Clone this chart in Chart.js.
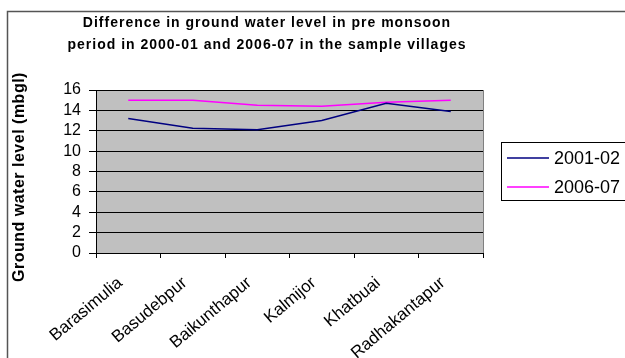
<!DOCTYPE html>
<html>
<head>
<meta charset="utf-8">
<script src="https://cdn.jsdelivr.net/npm/chart.js@4"></script>
<style>
html, body { margin: 0; padding: 0; background: #fff; }
</style>
</head>
<body>
<canvas id="myChart" width="625" height="358"></canvas>
<script>
var villages = ['Barasimulia', 'Basudebpur', 'Baikunthapur', 'Kalmijor', 'Khatbuai', 'Radhakantapur'];
var level2001 = [13.2, 12.25, 12.1, 13.0, 14.7, 13.9];
var level2006 = [15.0, 15.0, 14.5, 14.4, 14.8, 15.0];
var seriesNames = ['2001-02', '2006-07'];
var seriesColors = ['#000080', '#FF00FF'];
var yMin = 0, yMax = 16, yStep = 2;
var titleLines = ['Difference in ground water level in pre monsoon', 'period in 2000-01 and 2006-07 in the sample villages'];
var yTitle = 'Ground water level (mbgl)';

var fontFam = '"Liberation Sans", Arial, sans-serif';

// background, frame, titles and legend drawn around the chart
var decor = {
    id: 'decor',
    beforeDraw: function(chart) {
        var c = chart.ctx;
        var a = chart.chartArea;
        c.save();
        c.fillStyle = '#fff';
        c.fillRect(0, 0, chart.width, chart.height);
        c.fillStyle = '#C0C0C0';
        c.fillRect(a.left, a.top, a.right - a.left, a.bottom - a.top);
        c.strokeStyle = '#555';
        c.lineWidth = 1.5;
        c.strokeRect(7.5, 11.5, 700, 400);
        c.restore();
    },
    afterDraw: function(chart) {
        var c = chart.ctx;
        var a = chart.chartArea;
        c.save();
        // right edge of plot
        c.strokeStyle = '#808080';
        c.lineWidth = 1;
        c.beginPath();
        c.moveTo(Math.round(a.right) + 0.5, a.top);
        c.lineTo(Math.round(a.right) + 0.5, a.bottom);
        c.stroke();
        // chart title
        c.fillStyle = '#000';
        c.font = 'bold 14px ' + fontFam;
        c.letterSpacing = '1px';
        c.textAlign = 'center';
        c.textBaseline = 'middle';
        c.fillText(titleLines[0], 267, 23);
        c.fillText(titleLines[1], 267, 45);
        // y axis title
        c.save();
        c.translate(20, 177);
        c.rotate(-Math.PI / 2);
        c.font = 'bold 16px ' + fontFam;
        c.letterSpacing = '0.5px';
        c.fillText(yTitle, 0, 0);
        c.restore();
        // legend
        c.letterSpacing = '0px';
        c.strokeStyle = '#000';
        c.lineWidth = 1;
        c.strokeRect(501.5, 142.5, 200, 58);
        c.font = '18px ' + fontFam;
        c.textAlign = 'left';
        chart.data.datasets.forEach(function(ds, i) {
            var y = 158 + i * 29;
            c.strokeStyle = ds.borderColor;
            c.lineWidth = 1.5;
            c.beginPath();
            c.moveTo(507, y);
            c.lineTo(549, y);
            c.stroke();
            c.fillStyle = '#000';
            c.fillText(ds.label, 554, y + 1);
        });
        c.restore();
    }
};

var ctx = document.getElementById('myChart');
var myChart = new Chart(ctx, {
    type: 'line',
    data: {
        labels: villages,
        datasets: [{
            label: seriesNames[0],
            data: level2001,
            borderColor: seriesColors[0],
            borderWidth: 1.5,
            pointRadius: 0,
            tension: 0
        }, {
            label: seriesNames[1],
            data: level2006,
            borderColor: seriesColors[1],
            borderWidth: 1.5,
            pointRadius: 0,
            tension: 0
        }]
    },
    options: {
        responsive: false,
        animation: false,
        devicePixelRatio: 1,
        layout: {
            padding: { top: 90, right: 142, bottom: 0, left: 0 }
        },
        plugins: {
            legend: { display: false },
            title: { display: false },
            tooltip: { enabled: false }
        },
        scales: {
            y: {
                min: yMin,
                max: yMax,
                afterFit: function(scale) { scale.width = 96; },
                ticks: {
                    stepSize: yStep,
                    autoSkip: false,
                    color: '#000',
                    font: { family: fontFam, size: 16 },
                    padding: 8
                },
                grid: { color: '#000', tickLength: 7, lineWidth: 1 },
                border: { color: '#000' }
            },
            x: {
                offset: true,
                afterFit: function(scale) { scale.height = 105; },
                ticks: {
                    color: '#000',
                    autoSkip: false,
                    minRotation: 40,
                    maxRotation: 40,
                    labelOffset: -8,
                    padding: 15,
                    font: { family: fontFam, size: 17 }
                },
                grid: { offset: true, drawOnChartArea: false, color: '#000', tickLength: 5 },
                border: { color: '#000' }
            }
        }
    },
    plugins: [decor]
});
</script>
</body>
</html>
